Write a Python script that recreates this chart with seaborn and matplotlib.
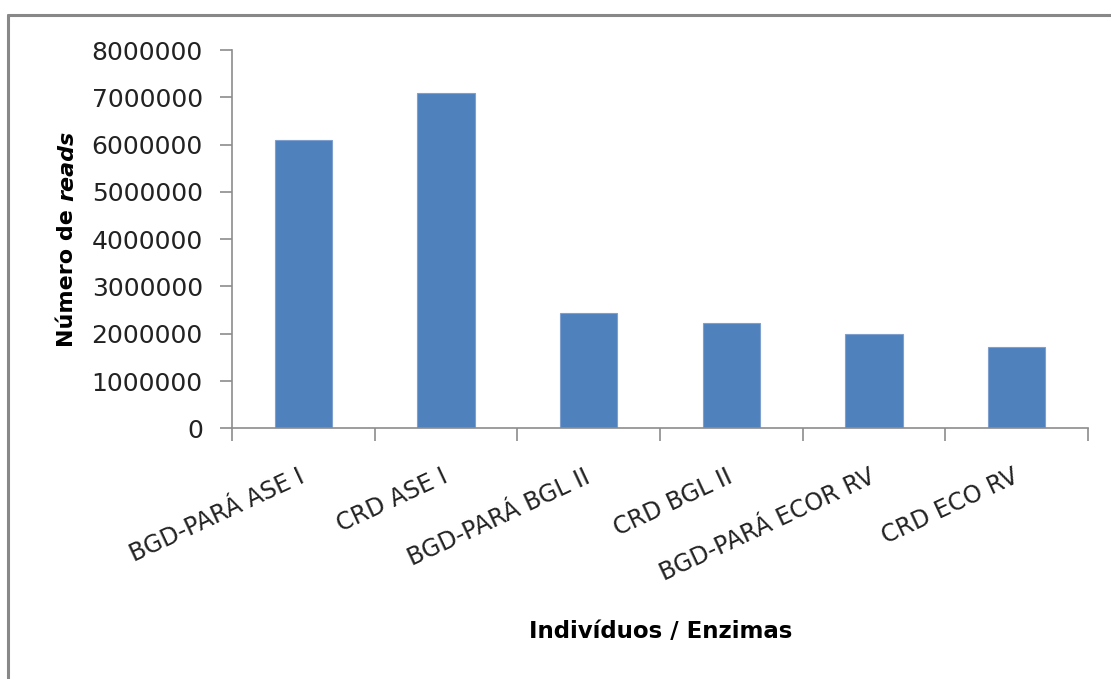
import matplotlib
matplotlib.use("Agg")
import matplotlib.pyplot as plt
from matplotlib.lines import Line2D
import seaborn as sns
import pandas as pd

categories = ["BGD-PARÁ ASE I", "CRD ASE I", "BGD-PARÁ BGL II",
              "CRD BGL II", "BGD-PARÁ ECOR RV", "CRD ECO RV"]
reads = [6090000, 7100000, 2430000, 2220000, 1990000, 1710000]
y_ticks = [0, 1000000, 2000000, 3000000, 4000000, 5000000, 6000000, 7000000, 8000000]

sns.set_theme(style="white")
plt.rcParams["font.family"] = ["DejaVu Sans"]

W, H = 1111, 679
fig = plt.figure(figsize=(W / 100, H / 100), dpi=100)
ax = fig.add_axes([232 / W, 1 - 428.3 / H, (1088 - 232) / W, (428.3 - 50) / H])

df = pd.DataFrame({"cat": categories, "reads": reads})
sns.barplot(data=df, x="cat", y="reads", color="#4F81BD", saturation=1,
            width=0.4, edgecolor="#7FA0CF", linewidth=0.8, ax=ax)

ax.set_xlim(-0.5, len(categories) - 0.5)
ax.set_ylim(0, 8000000)
ax.set_yticks(y_ticks)
ax.set_yticklabels([str(v) for v in y_ticks], fontsize=18, color="#222222")

ax.set_xticks(range(len(categories)))
ax.set_xticklabels(categories, rotation=25, ha="right", va="center",
                   rotation_mode="anchor", fontsize=17, color="#222222")
ax.tick_params(axis="x", length=0, pad=34)
ax.set_xticks([i - 0.5 for i in range(len(categories) + 1)], minor=True)
ax.tick_params(axis="x", which="minor", length=9, width=1.2, color="#8C8C8C",
               direction="out", bottom=True)
ax.tick_params(axis="y", length=9, width=1.2, color="#8C8C8C", direction="out",
               left=True, pad=12)

for side in ["top", "right"]:
    ax.spines[side].set_visible(False)
for side in ["left", "bottom"]:
    ax.spines[side].set_color("#8C8C8C")
    ax.spines[side].set_linewidth(1.2)

ax.set_xlabel("")
ax.set_ylabel("")
fig.text(661 / W, 1 - 631 / H, "Indivíduos / Enzimas", ha="center", va="center",
         fontsize=16.5, fontweight="bold", color="black")

# y-axis title: bold text followed by a bold-italic word
fig.canvas.draw()
r = fig.canvas.get_renderer()
t1 = fig.text(0, 0, "Número de\u00a0", rotation=90, ha="center", va="bottom",
              fontsize=16, fontweight="bold", color="black")
t2 = fig.text(0, 0, "reads", rotation=90, ha="center", va="bottom",
              fontsize=16, fontweight="bold", fontstyle="italic", color="black")
h1 = t1.get_window_extent(r).height
h2 = t2.get_window_extent(r).height
cx, cy = 67, H - 239
y0 = cy - (h1 + h2) / 2
t1.set_position((cx / W, y0 / H))
t2.set_position((cx / W, (y0 + h1) / H))

# chart frame
frame_kw = dict(color="#888888", linewidth=2.2, transform=fig.transFigure)
fig.add_artist(Line2D([8 / W, 8 / W], [0, 1 - 15 / H], **frame_kw))
fig.add_artist(Line2D([8 / W, 1], [1 - 15 / H, 1 - 15 / H], **frame_kw))

fig.savefig("out.png", dpi=100)
